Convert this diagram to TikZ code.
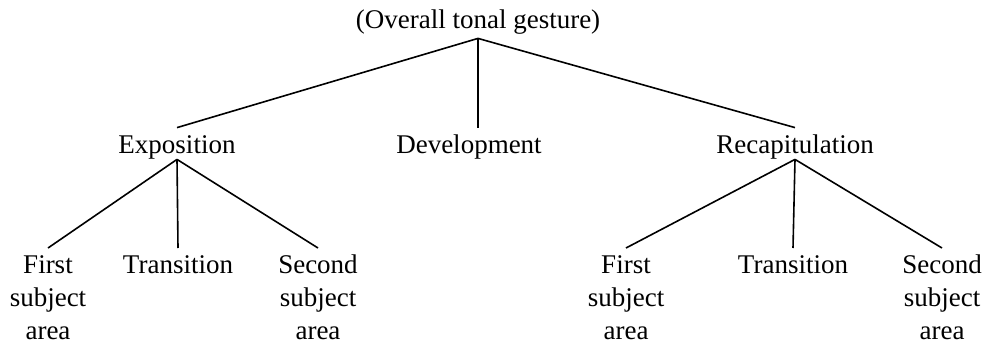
\documentclass[tikz,border=0pt]{standalone}
\usepackage{fontspec}
\setmainfont{Liberation Serif}
\usepackage{tikz}
\usetikzlibrary{positioning}
\newcommand{\lstrut}{\rule{0pt}{12.5pt}}
\tikzset{
  lbl/.style={inner xsep=1pt, inner ysep=3pt,
              font=\fontsize{13.5}{16.5}\selectfont},
  mid/.style={lbl, text height=9.5pt, text depth=0pt, anchor=base},
  leaf/.style={lbl, inner ysep=0pt, align=center, anchor=north},
  br/.style={line width=0.8pt, black}
}

\begin{document}
\begin{tikzpicture}[x=0.5pt,y=-0.5pt]
\useasboundingbox (0,0) rectangle (985,343);
\node[mid, inner ysep=5pt] (root) at (478,28) {(Overall tonal gesture)};
\node[mid] (expo) at (177,153) {Exposition};
\node[mid] (dev) at (469,153) {Development};
\node[mid] (recap) at (795,153) {Recapitulation};
\node[leaf] (first1) at (48,248) {\lstrut First\\subject\\area};
\node[leaf] (trans1) at (178,248) {\lstrut Transition};
\node[leaf] (second1) at (318,248) {\lstrut Second\\subject\\area};
\node[leaf] (first2) at (626,248) {\lstrut First\\subject\\area};
\node[leaf] (trans2) at (793,248) {\lstrut Transition};
\node[leaf] (second2) at (942,248) {\lstrut Second\\subject\\area};
\draw[br](root.south)--(expo.north);
\draw[br](root.south)--(root.south |- dev.north);
\draw[br](root.south)--(recap.north);
\draw[br](expo.south)--(first1.north);\draw[br](expo.south)--(trans1.north);\draw[br](expo.south)--(second1.north);
\draw[br](recap.south)--(first2.north);\draw[br](recap.south)--(trans2.north);\draw[br](recap.south)--(second2.north);
\end{tikzpicture}
\end{document}
